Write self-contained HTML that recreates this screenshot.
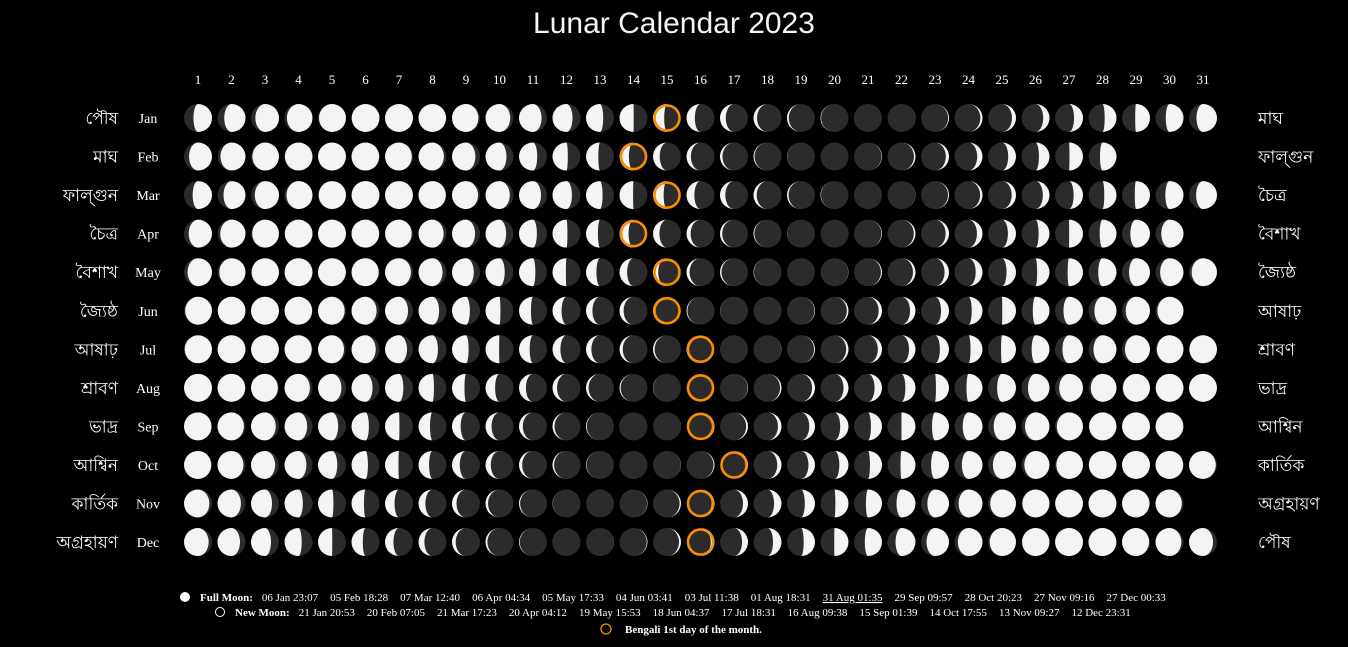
<!DOCTYPE html>
<html><head><meta charset="utf-8"><style>
body{margin:0;background:#000;width:1348px;height:647px;overflow:hidden;font-family:"Liberation Serif",serif;color:#fff}
svg{position:absolute;left:0;top:0}
</style></head><body>
<svg id="c" width="1348" height="647">
<text x="674" y="33" text-anchor="middle" font-family="Liberation Sans, sans-serif" font-size="30" fill="#f4f4f4">Lunar Calendar 2023</text>
<g id="g"></g>
</svg>
<script>
const months=["Jan","Feb","Mar","Apr","May","Jun","Jul","Aug","Sep","Oct","Nov","Dec"];
const bnLeft=["পৌষ","মাঘ","ফাল্গুন","চৈত্র","বৈশাখ","জ্যৈষ্ঠ","আষাঢ়","শ্রাবণ","ভাদ্র","আশ্বিন","কার্তিক","অগ্রহায়ণ"];
const bnRight=["মাঘ","ফাল্গুন","চৈত্র","বৈশাখ","জ্যৈষ্ঠ","আষাঢ়","শ্রাবণ","ভাদ্র","আশ্বিন","কার্তিক","অগ্রহায়ণ","পৌষ"];
const newMoons=["2022-12-23T15:47","2023-01-21T20:53","2023-02-20T07:05","2023-03-21T17:23","2023-04-20T04:12","2023-05-19T15:53","2023-06-18T04:37","2023-07-17T18:31","2023-08-16T09:38","2023-09-15T01:39","2023-10-14T17:55","2023-11-13T09:27","2023-12-12T23:31","2024-01-11T17:27"];
const fullLabels=["06 Jan 23:07","05 Feb 18:28","07 Mar 12:40","06 Apr 04:34","05 May 17:33","04 Jun 03:41","03 Jul 11:38","01 Aug 18:31","31 Aug 01:35","29 Sep 09:57","28 Oct 20:23","27 Nov 09:16","27 Dec 00:33"];
const newLabels=["21 Jan 20:53","20 Feb 07:05","21 Mar 17:23","20 Apr 04:12","19 May 15:53","18 Jun 04:37","17 Jul 18:31","16 Aug 09:38","15 Sep 01:39","14 Oct 17:55","13 Nov 09:27","12 Dec 23:31"];
const bengaliFirst=[15,14,15,14,15,15,16,16,16,17,16,16];
const daysIn=[31,28,31,30,31,30,31,31,30,31,30,31];
const NS="http://www.w3.org/2000/svg",g=document.getElementById('g');
const X=d=>198+(d-1)*33.5, Y=m=>118+m*38.55, R=14;
function el(t,a,p){const e=document.createElementNS(NS,t);for(const k in a)e.setAttribute(k,a[k]);(p||g).appendChild(e);return e;}
function txt(x,y,s,size,anchor,fam){const t=el('text',{x:x,y:y,'font-size':size,'text-anchor':anchor,fill:'#fff','font-family':fam||'Liberation Serif, serif'});t.textContent=s;return t;}
const nm=newMoons.map(s=>new Date(s).getTime());
for(let d=1;d<=31;d++){const t=txt(X(d),84,String(d),13,'middle');

}
for(let m=0;m<12;m++){
 const y=Y(m);
 let t=txt(118,y+6,bnLeft[m],17,'end','Liberation Serif, Noto Sans CJK SC, sans-serif');
 
 
 t=txt(148,y+5,months[m],14,'middle');
 
 
 t=txt(1258,y+6,bnRight[m],17,'start','Liberation Serif, Noto Sans CJK SC, sans-serif');
 
 
 for(let d=1;d<=daysIn[m];d++){
  const ts=new Date(2023,m,d,12).getTime();
  let i=0;while(nm[i+1]<=ts)i++;
  const f=(ts-nm[i])/(nm[i+1]-nm[i]);
  const cx=X(d),cy=y;
  const grp=el('g',{});
  
  
  el('circle',{cx:cx,cy:cy,r:R,fill:'#2b2b2b'},grp);
  const rx=R*Math.abs(Math.cos(2*Math.PI*f));
  let p;
  if(f<0.5){const gib=f>0.25;p=`M${cx},${cy-R}A${R},${R} 0 0 1 ${cx},${cy+R}A${rx},${R} 0 0 ${gib?1:0} ${cx},${cy-R}Z`;}
  else{const gib=f<0.75;p=`M${cx},${cy-R}A${R},${R} 0 0 0 ${cx},${cy+R}A${rx},${R} 0 0 ${gib?0:1} ${cx},${cy-R}Z`;}
  el('path',{d:p,fill:'#f4f4f4'},grp);
  if(d===bengaliFirst[m]){const o=el('circle',{cx:cx,cy:cy,r:12.5,fill:'none',stroke:'#ff8c00','stroke-width':2.5},grp);
  
  }
 }
}
function footerRow(y,iconFill,label,items,startX,gap){
 el('circle',{cx:startX,cy:y-4,r:4.5,fill:iconFill,stroke:'#fff','stroke-width':1});
 const t=el('text',{x:startX+15,y:y,'font-size':11,fill:'#fff','font-family':'Liberation Serif, serif'});
 const b=el('tspan',{'font-weight':'bold'},t);b.textContent=label;
 items.forEach((s,k)=>{const sp=el('tspan',{dx:k===0?9:gap},t);sp.textContent=s;if(s==="31 Aug 01:35")sp.setAttribute('text-decoration','underline');});
 return t;
}
let f1=footerRow(601,'#fff','Full Moon:',fullLabels,185,12);


let f2=footerRow(616,'#000','New Moon:',newLabels,220,12);


const oc=el('circle',{cx:606,cy:629,r:5,fill:'none',stroke:'#ff8c00','stroke-width':1.3});


const lt=txt(625,633,'Bengali 1st day of the month.',11,'start');
lt.setAttribute('font-weight','bold');


</script>
</body></html>
